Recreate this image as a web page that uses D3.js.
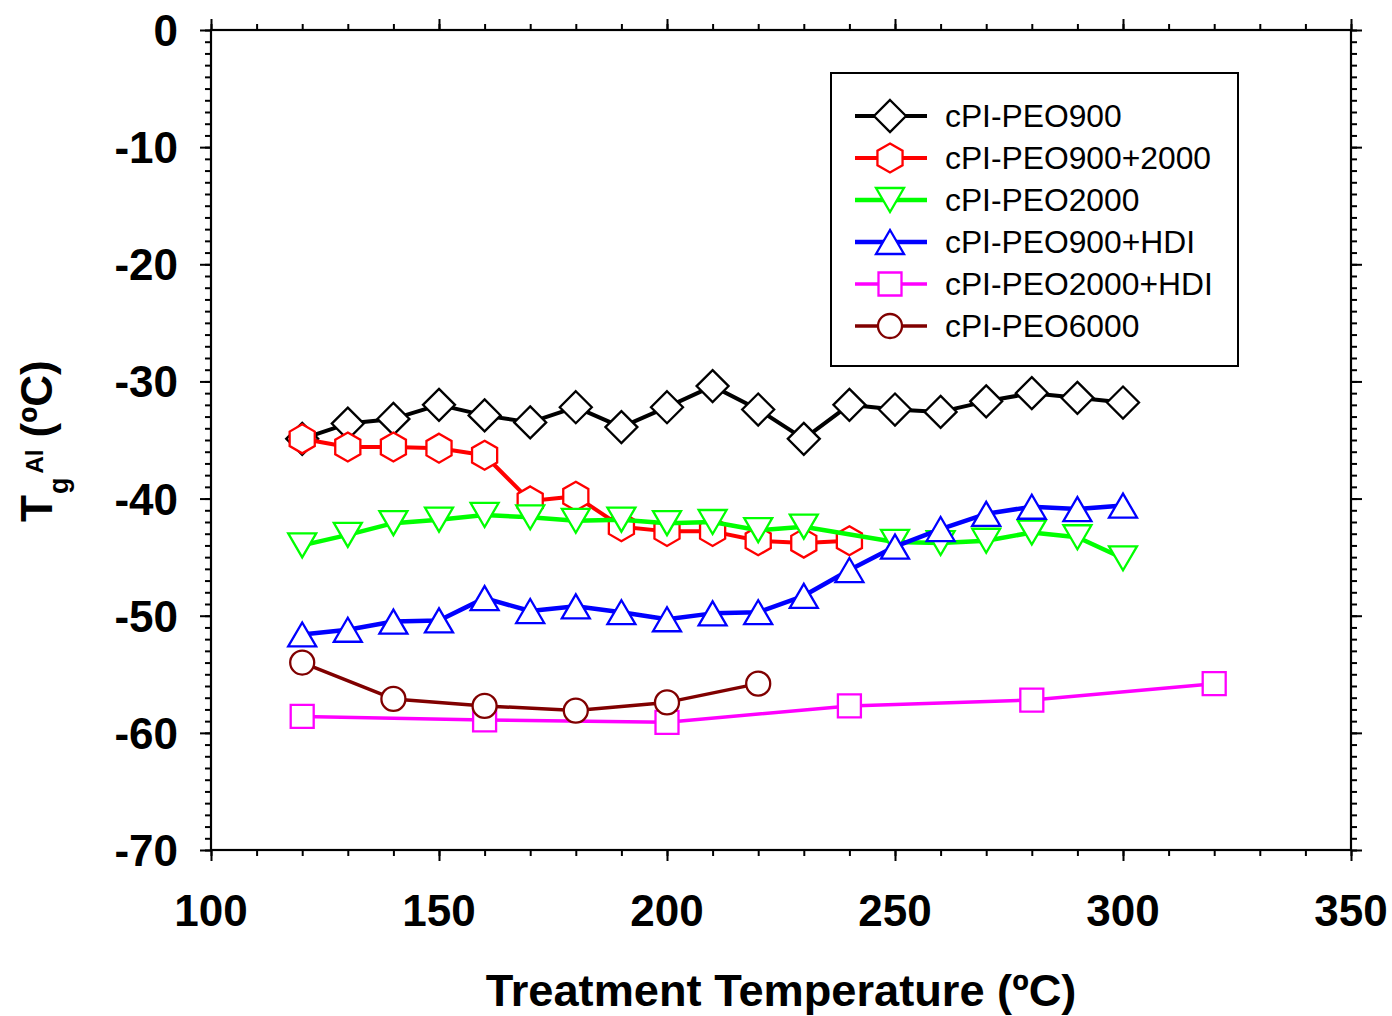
<!DOCTYPE html>
<html><head><meta charset="utf-8">
<script src="https://cdn.jsdelivr.net/npm/d3@7"></script>
<style>
html,body{margin:0;padding:0;background:#fff;}
svg{display:block;font-family:"Liberation Sans",Arial,sans-serif;}
</style></head>
<body>
<svg id="chart" width="1392" height="1016"></svg>
<script>
// ---- data ----
const xTicks = [100, 150, 200, 250, 300, 350];
const yTicks = [0, -10, -20, -30, -40, -50, -60, -70];

const seriesNames = ["cPI-PEO900", "cPI-PEO900+2000", "cPI-PEO2000", "cPI-PEO900+HDI", "cPI-PEO2000+HDI", "cPI-PEO6000"];
const seriesColors = ["#000000", "#ff0000", "#00ff00", "#0000ff", "#ff00ff", "#800000"];
const seriesSymbols = ["diamond", "hexagon", "triDown", "triUp", "square", "circle"];

const x_PEO900 = [120,130,140,150,160,170,180,190,200,210,220,230,240,250,260,270,280,290,300];
const y_PEO900 = [-34.9,-33.6,-33.2,-32.0,-32.9,-33.5,-32.2,-33.9,-32.2,-30.4,-32.4,-34.9,-32.0,-32.4,-32.6,-31.7,-31.0,-31.4,-31.8];

const x_PEO900_2000 = [120,130,140,150,160,170,180,190,200,210,220,230,240];
const y_PEO900_2000 = [-34.9,-35.6,-35.6,-35.7,-36.3,-40.2,-39.8,-42.4,-42.8,-42.8,-43.6,-43.8,-43.6];

const x_PEO2000 = [120,130,140,150,160,170,180,190,200,210,220,230,250,260,270,280,290,300];
const y_PEO2000 = [-44.0,-43.1,-42.1,-41.8,-41.4,-41.6,-41.9,-41.8,-42.1,-42.0,-42.7,-42.4,-43.7,-43.8,-43.6,-42.9,-43.3,-45.1];

const x_PEO900_HDI = [120,130,140,150,160,170,180,190,200,210,220,230,240,250,260,270,280,290,300];
const y_PEO900_HDI = [-51.6,-51.2,-50.5,-50.4,-48.5,-49.6,-49.2,-49.7,-50.3,-49.8,-49.7,-48.3,-46.1,-44.1,-42.6,-41.3,-40.7,-40.9,-40.6];

const x_PEO2000_HDI = [120,160,200,240,280,320];
const y_PEO2000_HDI = [-58.6,-58.9,-59.1,-57.7,-57.2,-55.8];

const x_PEO6000 = [120,140,160,180,200,220];
const y_PEO6000 = [-54.0,-57.1,-57.7,-58.1,-57.4,-55.8];

const seriesX = [x_PEO900, x_PEO900_2000, x_PEO2000, x_PEO900_HDI, x_PEO2000_HDI, x_PEO6000];
const seriesY = [y_PEO900, y_PEO900_2000, y_PEO2000, y_PEO900_HDI, y_PEO2000_HDI, y_PEO6000];
const lineWidths = [4, 4, 4.5, 4.5, 3.5, 3.5];

// ---- layout ----
const L = 211, R = 1351, T = 30, B = 850;
const svg = d3.select("#chart");
const x = d3.scaleLinear().domain([100, 350]).range([L, R]);
const y = d3.scaleLinear().domain([-70, 0]).range([B, T]);

const xMinor = d3.range(100, 351, 10);
const yMinor = d3.range(-70, 1, 1);

function drawAxis(axisGen, transform) {
  const g = svg.append("g").attr("transform", transform).call(axisGen);
  g.selectAll("path.domain").remove();
  g.selectAll("text").remove();
  g.selectAll("line").attr("stroke", "#000").attr("stroke-width", 2);
  return g;
}
// minor ticks
drawAxis(d3.axisBottom(x).tickValues(xMinor).tickSize(6), `translate(0,${B})`);
drawAxis(d3.axisTop(x).tickValues(xMinor).tickSize(6), `translate(0,${T})`);
drawAxis(d3.axisLeft(y).tickValues(yMinor).tickSize(6), `translate(${L},0)`);
drawAxis(d3.axisRight(y).tickValues(yMinor).tickSize(6), `translate(${R},0)`);
// major ticks
drawAxis(d3.axisBottom(x).tickValues(xTicks).tickSize(11), `translate(0,${B})`);
drawAxis(d3.axisTop(x).tickValues(xTicks).tickSize(11), `translate(0,${T})`);
drawAxis(d3.axisLeft(y).tickValues(yTicks).tickSize(11), `translate(${L},0)`);
drawAxis(d3.axisRight(y).tickValues(yTicks).tickSize(11), `translate(${R},0)`);

// frame
svg.append("rect").attr("x", L).attr("y", T).attr("width", R - L).attr("height", B - T)
  .attr("fill", "none").attr("stroke", "#000").attr("stroke-width", 2.2);

// tick labels
svg.append("g").selectAll("text").data(xTicks).join("text")
  .attr("x", d => x(d)).attr("y", 926).attr("text-anchor", "middle")
  .attr("font-size", 44).attr("font-weight", "bold").text(d => d);
svg.append("g").selectAll("text").data(yTicks).join("text")
  .attr("x", 178).attr("y", d => y(d) + 16).attr("text-anchor", "end")
  .attr("font-size", 44).attr("font-weight", "bold").text(d => d);

// axis titles
svg.append("text").attr("x", (L + R) / 2).attr("y", 1006).attr("text-anchor", "middle")
  .attr("font-size", 45.2).attr("font-weight", "bold").text("Treatment Temperature (ºC)");

const yt = svg.append("text").attr("transform", "translate(52,522) rotate(-90)")
  .attr("font-weight", "bold").attr("font-size", 44);
yt.append("tspan").text("T");
yt.append("tspan").attr("font-size", 27).attr("dy", 16).attr("dx", 1).text("g");
yt.append("tspan").attr("font-size", 24).attr("dy", -25).attr("dx", 4).text("Al");
yt.append("tspan").attr("dy", 9).text(" (ºC)");

// symbols
function symbolPath(type) {
  switch (type) {
    case "diamond": return "M0,-16L16,0L0,16L-16,0Z";
    case "hexagon": {
      const r = 14.5, pts = [];
      for (let i = 0; i < 6; i++) {
        const a = -Math.PI / 2 + i * Math.PI / 3;
        pts.push([r * Math.cos(a), r * Math.sin(a)]);
      }
      return "M" + pts.map(p => p.join(",")).join("L") + "Z";
    }
    case "triDown": return "M-14,-12L14,-12L0,12Z";
    case "triUp": return "M-14,12L14,12L0,-12Z";
    case "square": return "M-11.5,-11.5L11.5,-11.5L11.5,11.5L-11.5,11.5Z";
    case "circle": return "M12,0A12,12 0 1,1 -12,0A12,12 0 1,1 12,0Z";
  }
}

const line = d3.line().x(d => x(d[0])).y(d => y(d[1]));
seriesNames.forEach((name, i) => {
  const pts = seriesX[i].map((v, j) => [v, seriesY[i][j]]);
  const g = svg.append("g");
  g.append("path").attr("d", line(pts)).attr("fill", "none")
    .attr("stroke", seriesColors[i]).attr("stroke-width", lineWidths[i])
    .attr("stroke-linejoin", "round");
  g.selectAll("path.m").data(pts).join("path").attr("class", "m")
    .attr("transform", d => `translate(${x(d[0])},${y(d[1])})`)
    .attr("d", symbolPath(seriesSymbols[i]))
    .attr("fill", "#fff").attr("stroke", seriesColors[i]).attr("stroke-width", 2.3);
});

// legend
const lg = svg.append("g");
lg.append("rect").attr("x", 831).attr("y", 73).attr("width", 407).attr("height", 293)
  .attr("fill", "#fff").attr("stroke", "#000").attr("stroke-width", 2);
const rowY = d3.scalePoint().domain(seriesNames).range([116, 326]);
seriesNames.forEach((name, i) => {
  const cy = rowY(name);
  lg.append("line").attr("x1", 855).attr("x2", 927).attr("y1", cy).attr("y2", cy)
    .attr("stroke", seriesColors[i]).attr("stroke-width", lineWidths[i]);
  lg.append("path").attr("transform", `translate(890,${cy})`).attr("d", symbolPath(seriesSymbols[i]))
    .attr("fill", "#fff").attr("stroke", seriesColors[i]).attr("stroke-width", 2.3);
  lg.append("text").attr("x", 945).attr("y", cy + 11).attr("font-size", 31.8).text(name);
});
</script>
</body></html>
